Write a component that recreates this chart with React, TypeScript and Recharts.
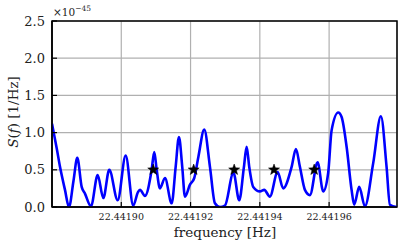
import React from 'react';
import { ComposedChart, Line, Scatter, XAxis, YAxis, CartesianGrid, ReferenceArea } from 'recharts';

const freqs: number[] = [
  22.44188000, 22.44188136, 22.44188231, 22.44188375, 22.44188491, 22.44188620, 22.44188730,
  22.44188857, 22.44188952, 22.44189126, 22.44189319, 22.44189481, 22.44189654, 22.44189896,
  22.44190127, 22.44190346, 22.44190482, 22.44190540, 22.44190684, 22.44190877, 22.44190952,
  22.44191022, 22.44191117, 22.44191261, 22.44191455, 22.44191570, 22.44191665, 22.44191760,
  22.44191838, 22.44191983, 22.44192107, 22.44192228, 22.44192395, 22.44192560, 22.44192704,
  22.44192848, 22.44192993, 22.44193238, 22.44193405, 22.44193541, 22.44193619, 22.44193694,
  22.44193810, 22.44194003, 22.44194127, 22.44194291, 22.44194514, 22.44194675, 22.44194918,
  22.44195042, 22.44195157, 22.44195302, 22.44195446, 22.44195668, 22.44195830, 22.44195974,
  22.44196072, 22.44196263, 22.44196361, 22.44196505, 22.44196649, 22.44196724, 22.44196869,
  22.44197033, 22.44197273, 22.44197495, 22.44197659, 22.44197755, 22.44197948,
];
const psd: number[] = [
  1.12, 0.79, 0.54, 0.23, 0.00, 0.35, 0.66,
  0.27, 0.18, 0.01, 0.43, 0.12, 0.50, 0.09,
  0.69, 0.02, 0.20, 0.23, 0.15, 0.50, 0.74,
  0.50, 0.25, 0.39, 0.05, 0.54, 0.94, 0.54,
  0.14, 0.30, 0.39, 0.68, 1.04, 0.54, 0.05,
  0.00, 0.02, 0.46, 0.09, 0.54, 0.81, 0.54,
  0.27, 0.21, 0.23, 0.14, 0.47, 0.25, 0.54,
  0.78, 0.54, 0.23, 0.16, 0.60, 0.21, 0.46,
  1.03, 1.27, 1.21, 0.81, 0.23, 0.03, 0.27,
  0.01, 0.59, 1.22, 0.54, 0.03, 0.00,
];
const starFreqs: number[] = [22.44190923, 22.44192090, 22.44193260, 22.44194410, 22.44195570];
const starValues: number[] = [0.5, 0.5, 0.5, 0.5, 0.5];
const xTicks: number[] = [22.4419, 22.44192, 22.44194, 22.44196];
const yTicks: number[] = [0, 0.5, 1.0, 1.5, 2.0, 2.5];
const xDomain: [number, number] = [22.44188, 22.4419796];
const yDomain: [number, number] = [0, 2.5];

const lineData = freqs.map((f, i) => ({ x: f, y: psd[i] }));
const starData = starFreqs.map((f, i) => ({ x: f, y: starValues[i] }));

const FONT = "DejaVu Serif";

const XTick = (props: any) => {
  const { x, y, payload } = props;
  return (
    <g>
      <line x1={x} y1={y} x2={x} y2={y - 5} stroke="#000" strokeWidth={1.2} />
      <text x={x} y={y + 13} textAnchor="middle" fontFamily={FONT} fontSize={9.5} fill="#222">
        {Number(payload.value).toFixed(5)}
      </text>
    </g>
  );
};

const YTick = (props: any) => {
  const { x, y, payload } = props;
  return (
    <g>
      <line x1={x} y1={y} x2={x + 5} y2={y} stroke="#000" strokeWidth={1.2} />
      <text x={x - 7} y={y} dy="0.36em" textAnchor="end" fontFamily={FONT} fontSize={13} fill="#222">
        {Number(payload.value).toFixed(1)}
      </text>
    </g>
  );
};

const Star = (props: any) => {
  const { cx, cy } = props;
  const R = 5.8;
  const r = 2.4;
  const pts: string[] = [];
  for (let i = 0; i < 10; i++) {
    const a = -Math.PI / 2 + (i * Math.PI) / 5;
    const rad = i % 2 === 0 ? R : r;
    pts.push(`${cx + rad * Math.cos(a)},${cy + rad * Math.sin(a)}`);
  }
  return <polygon points={pts.join(' ')} fill="#000" stroke="#000" strokeWidth={0.5} />;
};

export default function App() {
  return (
    <div style={{ position: 'absolute', left: 0, top: 0, width: 403, height: 249, background: '#fff' }}>
      <ComposedChart
        width={403}
        height={249}
        data={lineData}
        margin={{ top: 21, right: 6, left: 0, bottom: 0 }}
      >
        <CartesianGrid stroke="#b0b0b0" strokeWidth={1.2} />
        <XAxis
          dataKey="x"
          type="number"
          domain={xDomain}
          ticks={xTicks}
          allowDataOverflow
          height={42}
          tickSize={0}
          tickMargin={0}
          tickLine={false}
          axisLine={{ stroke: '#000', strokeWidth: 1.5 }}
          tick={<XTick />}
          interval={0}
        />
        <YAxis
          type="number"
          domain={yDomain}
          ticks={yTicks}
          allowDataOverflow
          width={52}
          tickSize={0}
          tickMargin={0}
          tickLine={false}
          axisLine={{ stroke: '#000', strokeWidth: 1.5 }}
          tick={<YTick />}
          interval={0}
        />
        <Line
          data={lineData}
          dataKey="y"
          type="monotone"
          stroke="#0000ff"
          strokeWidth={2.6}
          dot={false}
          isAnimationActive={false}
        />
        <Scatter data={starData} dataKey="y" shape={<Star />} isAnimationActive={false} />
        <ReferenceArea
          x1={xDomain[0]}
          x2={xDomain[1]}
          y1={yDomain[0]}
          y2={yDomain[1]}
          fill="none"
          fillOpacity={0}
          stroke="#000"
          strokeWidth={1.5}
          ifOverflow="visible"
        />
      </ComposedChart>
      <svg
        width={403}
        height={249}
        style={{ position: 'absolute', left: 0, top: 0, pointerEvents: 'none' }}
      >
        <text x={53} y={16} fontFamily={FONT} fontSize={10.5} fill="#222">
          ×10
          <tspan dy={-5} fontSize={7.5}>−45</tspan>
        </text>
        <text
          x={18}
          y={112}
          transform="rotate(-90 18 112)"
          textAnchor="middle"
          fontFamily={FONT}
          fontSize={13.5}
          fill="#222"
        >
          <tspan fontStyle="italic">S</tspan>
          <tspan>(</tspan>
          <tspan fontStyle="italic">f</tspan>
          <tspan>) [1/Hz]</tspan>
        </text>
        <text x={225} y={237} textAnchor="middle" fontFamily={FONT} fontSize={13.5} fill="#222">
          frequency [Hz]
        </text>
      </svg>
    </div>
  );
}
